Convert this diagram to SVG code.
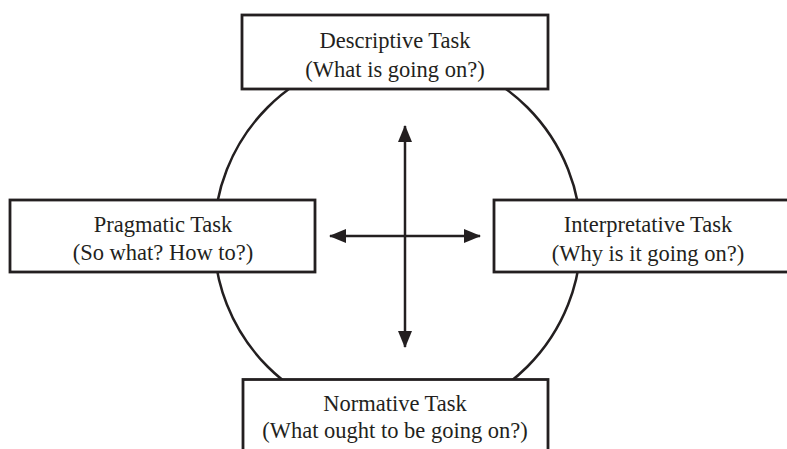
<svg xmlns="http://www.w3.org/2000/svg" width="787" height="449" viewBox="0 0 787 449">
<style>
.box{fill:#fff;stroke:#231f20;stroke-width:2.8}
.t{font-family:"Liberation Serif","Times New Roman",serif;font-size:22.5px;fill:#231f20;text-anchor:middle}
.ln{stroke:#231f20;stroke-width:2.5;fill:none}
</style>
<defs>
<marker id="ah" viewBox="0 0 17 14" refX="16" refY="7" markerWidth="17" markerHeight="14" markerUnits="userSpaceOnUse" orient="auto-start-reverse">
<path d="M0,0 L17,7 L0,14 Z" fill="#231f20"/>
</marker>
</defs>
<rect width="787" height="449" fill="#fff"/>
<circle cx="397.5" cy="237" r="183.5" class="ln"/>
<g id="connectors">
<line x1="405" y1="126" x2="405" y2="347" class="ln" marker-start="url(#ah)" marker-end="url(#ah)"/>
<line x1="330" y1="236" x2="480" y2="236" class="ln" marker-start="url(#ah)" marker-end="url(#ah)"/>
</g>
<g id="descriptive">
<rect x="242" y="15" width="306" height="74" class="box"/>
<text class="t" x="395" y="48">Descriptive Task</text>
<text class="t" x="395" y="77">(What is going on?)</text>
</g>
<g id="pragmatic">
<rect x="10" y="200" width="305" height="72" class="box"/>
<text class="t" x="163" y="232">Pragmatic Task</text>
<text class="t" x="163" y="260">(So what? How to?)</text>
</g>
<g id="interpretative">
<rect x="494" y="200" width="310" height="72" class="box"/>
<text class="t" x="648" y="232">Interpretative Task</text>
<text class="t" x="648" y="261">(Why is it going on?)</text>
</g>
<g id="normative">
<rect x="243" y="379.5" width="305" height="80" class="box"/>
<text class="t" x="395" y="411">Normative Task</text>
<text class="t" x="395" y="438">(What ought to be going on?)</text>
</g>
</svg>
